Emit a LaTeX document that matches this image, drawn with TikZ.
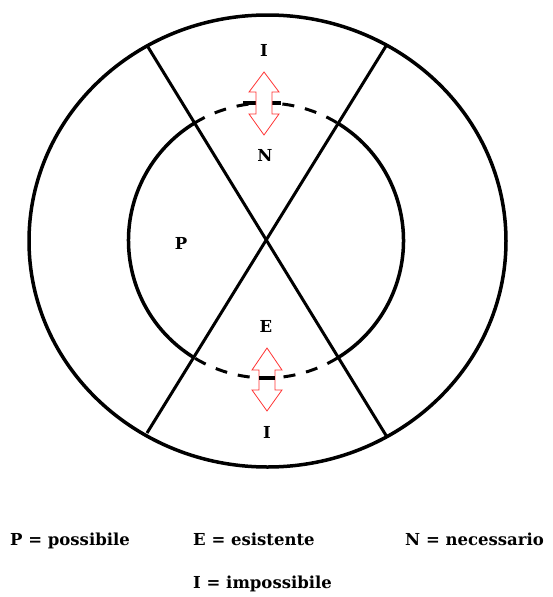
\documentclass[tikz,border=0pt]{standalone}
\usepackage{fontspec}
\setmainfont{DejaVu Serif}
\usepackage{tikz}
\usetikzlibrary{positioning}

\begin{document}
\begin{tikzpicture}[x=1pt, y=-1pt,
  ring/.style={black, line width=3.5pt},
  cross/.style={black, line width=3pt},
  hidden/.style={black, line width=3pt, dash pattern=on 12pt off 11pt},
  swap/.style={red!80!white, line width=0.8pt, fill=white},
  lab/.style={font=\bfseries\fontsize{16.5}{18}\selectfont, inner sep=0pt}]
\useasboundingbox (0,0) rectangle (553,597);
\coordinate (O) at (267.5,241);
\coordinate (C) at (266,240.5);
\draw[ring] (O) ellipse [x radius=238.5, y radius=226];
% diagonals
\coordinate (tl) at (148,47);
\coordinate (br) at (387,437);
\coordinate (tr) at (386,46);
\coordinate (bl) at (147,433);
\draw[cross] (tl) -- (br);
\draw[cross] (tr) -- (bl);
% inner circle, solid on the sides, dashed top and bottom
\draw[ring] (C) ++(-58.5:137.5) arc[start angle=-58.5, end angle=58.5, radius=137.5];
\draw[ring] (C) ++(121.5:137.5) arc[start angle=121.5, end angle=238.5, radius=137.5];
\draw[hidden] (C) ++(-121.5:137.5) arc[start angle=-121.5, end angle=-58.5, radius=137.5];
\draw[hidden] (C) ++(58.5:137.5) arc[start angle=58.5, end angle=121.5, radius=137.5];
\draw[line width=4pt] (243,103) -- (281,103);
% double arrows
\draw[swap] (264,72) -- ++(15,20) -- ++(-7,0) -- ++(0,22) -- ++(7,0) -- ++(-15,21)
  -- ++(-15,-21) -- ++(7,0) -- ++(0,-22) -- ++(-7,0) -- cycle;
\draw[swap] (267,348) -- ++(15,22) -- ++(-7,0) -- ++(0,20) -- ++(7,0) -- ++(-15,21)
  -- ++(-15,-21) -- ++(7,0) -- ++(0,-20) -- ++(-7,0) -- cycle;
\draw[line width=4pt] (259,378) -- (275,378);
% letters
\node[lab] (itop) at (264,50) {I};
\node[lab] (n) at (265,155) {N};
\node[lab] (p) at (181,243) {P};
\node[lab] (e) at (266,326) {E};
\node[lab] (ibot) at (267,432) {I};
% legend
\node[lab, anchor=base west] (lp) at (10,545) {P = possibile};
\node[lab, anchor=base west] (le) at (193,545) {E = esistente};
\node[lab, anchor=base west] (ln) at (405,545) {N = necessario};
\node[lab, anchor=base west] (li) at (193,588) {I = impossibile};
\end{tikzpicture}
\end{document}
